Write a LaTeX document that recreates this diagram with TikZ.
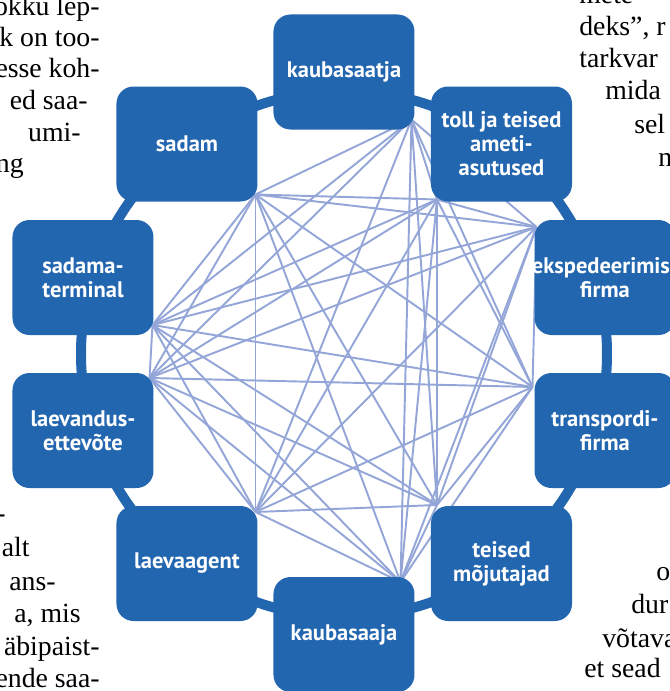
\documentclass[tikz,border=0pt]{standalone}
\usepackage{fontspec}
\setmainfont{Liberation Serif}
\newfontfamily\labelfont{PT Sans}
\usetikzlibrary{calc,backgrounds}
\definecolor{boxblue}{HTML}{2366B0}
\definecolor{linkblue}{HTML}{94A6D8}

\begin{document}
\begin{tikzpicture}[
    box/.style={fill=boxblue, rounded corners=0.34cm, minimum width=2.82cm,
      minimum height=2.3cm, inner sep=0pt, outer sep=0pt, text=white, align=center,
      font=\labelfont\bfseries\fontsize{12.8}{13.7}\selectfont},
    link/.style={linkblue, line width=1.1pt},
    ring/.style={boxblue, line width=0.2cm},
    body/.style={inner sep=0pt, font=\fontsize{15.8}{18}\selectfont}
  ]
  \useasboundingbox (-6.88,7.08) rectangle (6.52,-6.74);
  \clip (-6.88,7.08) rectangle (6.52,-6.74);

  % text round the picture
  \node[body, anchor=base east] (lt1) at (-4.88,6.78) {okku lep-};
  \node[body, anchor=base east] (lt2) at (-4.88,6.16) {k on too-};
  \node[body, anchor=base east] (lt3) at (-4.88,5.54) {esse koh-};
  \node[body, anchor=base east] (lt4) at (-5.12,4.90) {ed saa-};
  \node[body, anchor=base east] (lt5) at (-5.26,4.26) {umi-};
  \node[body, anchor=base east] (lt6) at (-6.40,3.64) {ng};

  \node[body, anchor=base east] (lb1) at (-6.76,-3.36) {-};
  \node[body, anchor=base east] (lb2) at (-6.28,-4.04) {alt};
  \node[body, anchor=base east] (lb3) at (-5.76,-4.72) {ans-};
  \node[body, anchor=base east] (lb4) at (-5.26,-5.36) {a, mis};
  \node[body, anchor=base east] (lb5) at (-4.88,-6.02) {äbipaist-};
  \node[body, anchor=base east] (lb6) at (-4.88,-6.66) {ende saa-};

  \node[body, anchor=base west] (rt1) at (4.70,7.00) {mete “};
  \node[body, anchor=base west] (rt2) at (4.70,6.36) {deks”, r};
  \node[body, anchor=base west] (rt3) at (4.70,5.72) {tarkvar};
  \node[body, anchor=base west] (rt4) at (5.22,5.08) {mida};
  \node[body, anchor=base west] (rt5) at (5.80,4.42) {sel};
  \node[body, anchor=base west] (rt6) at (6.28,3.76) {n};

  \node[body, anchor=base west] (rb1) at (6.24,-4.52) {o};
  \node[body, anchor=base west] (rb2) at (5.74,-5.18) {dur};
  \node[body, anchor=base west] (rb3) at (5.16,-5.86) {võtava};
  \node[body, anchor=base west] (rb4) at (4.80,-6.46) {et sead};

  % the ten parties
  \node[box] (saatja) at (0,5.64) {kaubasaatja};
  \node[box] (toll) at (3.15,4.2) {toll ja teised\\ameti-\\asutused};
  \node[box] (eksp) at (5.22,1.53) {\makebox[2.8cm]{ekspedeerimis-}\\firma};
  \node[box] (transp) at (5.22,-1.53) {transpordi-\\firma};
  \node[box] (teised) at (3.15,-4.19) {teised\\mõjutajad};
  \node[box] (saaja) at (0,-5.61) {kaubasaaja};
  \node[box] (agent) at (-3.14,-4.19) {laevaagent};
  \node[box] (laevandus) at (-5.22,-1.53) {laevandus-\\ettevõte};
  \node[box] (terminal) at (-5.22,1.53) {sadama-\\terminal};
  \node[box] (sadam) at (-3.14,4.2) {sadam};

  \coordinate (h1) at ($(saatja.south east)+(-0.06,0.2)$);
  \coordinate (h2) at ($(toll.south west)+(0.12,0.04)$);
  \coordinate (h3) at ($(eksp.north west)+(0.04,-0.14)$);
  \coordinate (h4) at ($(transp.north west)+(-0.04,-0.28)$);
  \coordinate (h5) at ($(teised.north west)+(0.12,0.02)$);
  \coordinate (h6) at ($(saaja.north east)+(-0.28,-0.1)$);
  \coordinate (h7) at ($(agent.north east)+(-0.04,-0.12)$);
  \coordinate (h8) at ($(laevandus.north east)+(-0.08,-0.1)$);
  \coordinate (h9) at ($(terminal.south east)+(-0.02,0.2)$);
  \coordinate (h10) at ($(sadam.south east)+(-0.04,0.14)$);

  \begin{scope}[on background layer]
    \draw[ring] (0,0) circle (5.26);
    % everyone with everyone
    \foreach \i in {1,...,9}{
      \pgfmathtruncatemacro\k{\i+1}
      \foreach \j in {\k,...,10}
        \draw[link] (h\i) -- (h\j);
    }
  \end{scope}
\end{tikzpicture}
\end{document}
